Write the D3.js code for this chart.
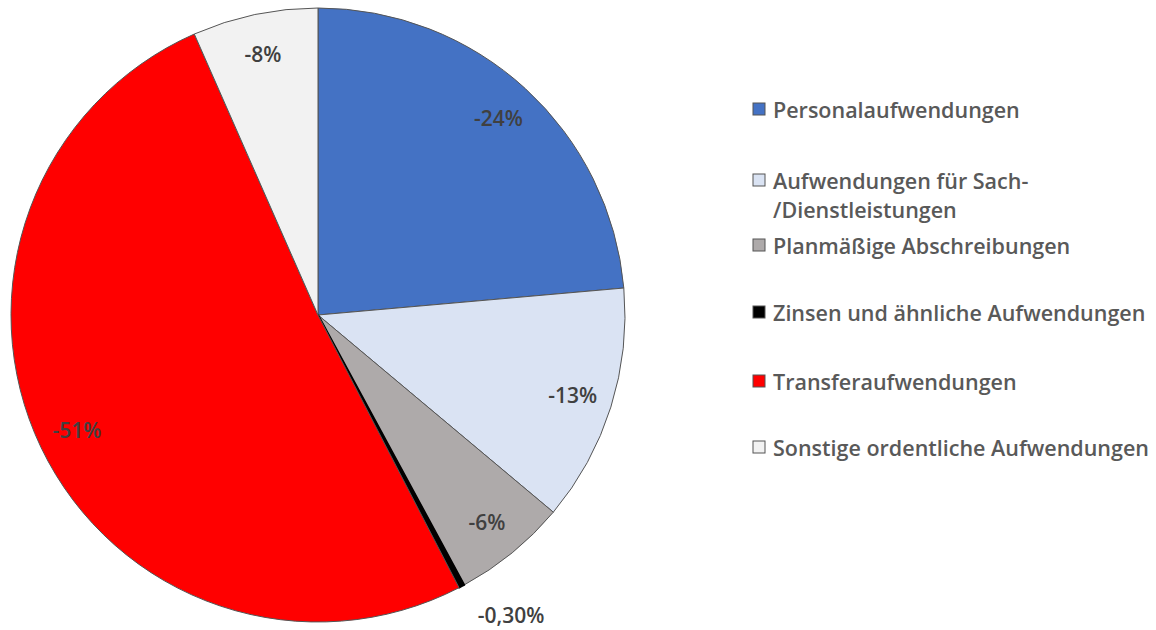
<!DOCTYPE html>
<html>
<head>
<meta charset="utf-8">
<script src="https://cdn.jsdelivr.net/npm/d3@7"></script>
<style>
  html, body { margin: 0; padding: 0; background: #fff; }
  svg { display: block; }
</style>
</head>
<body>
<svg id="chart"></svg>
<script>
// Define data
const categories = [
  "Personalaufwendungen",
  "Aufwendungen für Sach-/Dienstleistungen",
  "Planmäßige Abschreibungen",
  "Zinsen und ähnliche Aufwendungen",
  "Transferaufwendungen",
  "Sonstige ordentliche Aufwendungen"
];
// slice shares (percent)
const shares = [23.6, 12.5, 6.0, 0.3, 51.0, 6.6];
// labels as printed on the chart
const sliceLabels = ["-24%", "-13%", "-6%", "-0,30%", "-51%", "-8%"];
// legend text, split the way it wraps
const legendLines = [
  ["Personalaufwendungen"],
  ["Aufwendungen für Sach-", "/Dienstleistungen"],
  ["Planmäßige Abschreibungen"],
  ["Zinsen und ähnliche Aufwendungen"],
  ["Transferaufwendungen"],
  ["Sonstige ordentliche Aufwendungen"]
];
const colors = ["#4472C4", "#DAE3F3", "#AEAAAA", "#000000", "#FF0000", "#F2F2F2"];

// Layout
const DIMENSIONS = {
  width: 1156,
  height: 630,
  cx: 318,
  cy: 315,
  radius: 307
};
const FONT = "'Open Sans', 'DejaVu Sans', sans-serif";

const svg = d3.select("#chart")
  .attr("width", DIMENSIONS.width)
  .attr("height", DIMENSIONS.height);

const data = categories.map((c, i) => ({name: c, value: shares[i], label: sliceLabels[i], color: colors[i]}));

const pie = d3.pie()
  .sort(null)
  .value(d => d.value);

const arc = d3.arc()
  .innerRadius(0)
  .outerRadius(DIMENSIONS.radius);

const labelArc = d3.arc()
  .innerRadius(DIMENSIONS.radius * 0.87)
  .outerRadius(DIMENSIONS.radius * 0.87);

const arcs = pie(data);

const g = svg.append("g")
  .attr("transform", `translate(${DIMENSIONS.cx},${DIMENSIONS.cy})`);

g.selectAll("path")
  .data(arcs)
  .join("path")
  .attr("d", arc)
  .attr("fill", d => d.data.color)
  .attr("stroke", d => d.data.color === "#000000" ? "#000" : "#555")
  .attr("stroke-width", d => d.data.color === "#000000" ? 2 : 1)
  .attr("stroke-linejoin", "round");

// Slice labels; the tiny slice gets its label pushed outside
g.selectAll(".slice-label")
  .data(arcs)
  .join("text")
  .attr("class", "slice-label")
  .attr("transform", d => {
    if (d.data.value < 1) {
      const [x, y] = d3.arc().innerRadius(DIMENSIONS.radius * 1.1).outerRadius(DIMENSIONS.radius * 1.1).centroid(d);
      return `translate(${x + 35},${y + 2})`;
    }
    const [x, y] = labelArc.centroid(d);
    return `translate(${x},${y})`;
  })
  .attr("text-anchor", "middle")
  .attr("dominant-baseline", "central")
  .attr("font-family", FONT)
  .attr("font-weight", 600)
  .attr("font-size", "21px")
  .attr("fill", "#404040")
  .text(d => d.data.label);

// Legend
const legendRows = [109, 180, 245, 312, 381, 447];
const legend = svg.append("g")
  .attr("transform", "translate(753,0)");

const items = legend.selectAll(".legend-item")
  .data(data)
  .join("g")
  .attr("class", "legend-item")
  .attr("transform", (d, i) => `translate(0,${legendRows[i]})`);

items.append("rect")
  .attr("x", 0)
  .attr("y", -6)
  .attr("width", 12)
  .attr("height", 12)
  .attr("fill", d => d.color)
  .attr("stroke", "#555")
  .attr("stroke-width", 1);

items.append("text")
  .attr("x", 20)
  .attr("font-family", FONT)
  .attr("font-weight", 600)
  .attr("font-size", "21.5px")
  .attr("fill", "#595959")
  .attr("dominant-baseline", "central")
  .selectAll("tspan")
  .data((d, i) => legendLines[i])
  .join("tspan")
  .attr("x", 20)
  .attr("dy", (d, j) => j === 0 ? 0 : 29)
  .text(d => d);
</script>
</body>
</html>
